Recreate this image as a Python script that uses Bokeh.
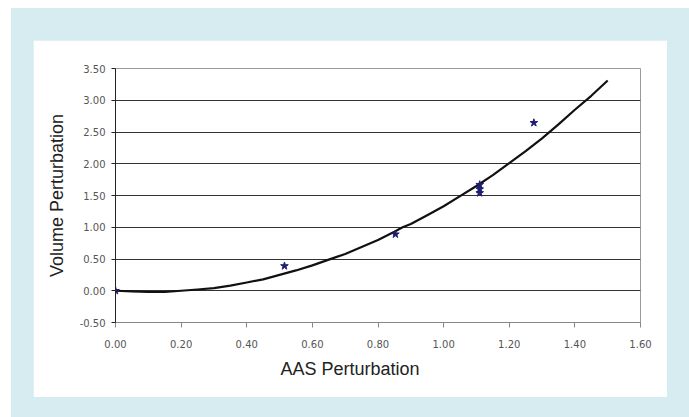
from bokeh.plotting import figure
from bokeh.models import FixedTicker, Title
from bokeh.layouts import column
from bokeh.embed import file_html
from bokeh.resources import INLINE

# measured points (AAS perturbation vs volume perturbation)
pts_x = [0.00, 0.515, 0.853, 1.11, 1.11, 1.11, 1.275]
pts_y = [0.00, 0.39, 0.89, 1.67, 1.60, 1.54, 2.645]

# fitted curve
fit_x = [0.00, 0.05, 0.10, 0.15, 0.20, 0.25, 0.30, 0.35, 0.40, 0.45, 0.50,
         0.55, 0.60, 0.65, 0.70, 0.75, 0.80, 0.85, 0.875, 0.90, 0.95, 1.00,
         1.05, 1.10, 1.15, 1.20, 1.25, 1.30, 1.35, 1.40, 1.45, 1.50]
fit_y = [0.00, -0.01, -0.02, -0.02, 0.00, 0.02, 0.04, 0.08, 0.13, 0.18, 0.25,
         0.32, 0.40, 0.49, 0.58, 0.69, 0.80, 0.93, 1.00, 1.05, 1.19, 1.33,
         1.49, 1.65, 1.82, 2.01, 2.20, 2.40, 2.62, 2.85, 3.07, 3.31]

x_ticks = [0.0, 0.2, 0.4, 0.6, 0.8, 1.0, 1.2, 1.4, 1.6]
x_tick_labels = ["0.00", "0.20", "0.40", "0.60", "0.80", "1.00", "1.20", "1.40", "1.60"]
y_ticks = [-0.5, 0.0, 0.5, 1.0, 1.5, 2.0, 2.5, 3.0, 3.5]
y_tick_labels = ["-0.50", "0.00", "0.50", "1.00", "1.50", "2.00", "2.50", "3.00", "3.50"]

x_title = "AAS Perturbation"
y_title = "Volume Perturbation"

p = figure(width=634, height=357, output_backend="svg", toolbar_location=None,
           x_range=(0, 1.6), y_range=(-0.5, 3.5),
           min_border_left=82, min_border_right=27, min_border_top=28, min_border_bottom=75,
           background_fill_color="white", border_fill_color="white")
p.outline_line_color = "#9a9a9a"
p.outline_line_width = 1

p.xgrid.visible = False
p.ygrid.ticker = FixedTicker(ticks=y_ticks)
p.ygrid.grid_line_color = "#333333"
p.ygrid.grid_line_width = 1

for ax, ticks, labels in ((p.xaxis[0], x_ticks, x_tick_labels), (p.yaxis[0], y_ticks, y_tick_labels)):
    ax.ticker = FixedTicker(ticks=ticks)
    ax.major_label_overrides = {t: l for t, l in zip(ticks, labels)}
    ax.minor_tick_line_color = None
    ax.major_tick_in = 0
    ax.major_label_text_font = "DejaVu Sans"
    ax.major_label_text_font_size = "10px"
    ax.major_label_text_color = "#555555"

p.xaxis.major_tick_out = 5
p.xaxis.axis_line_color = "#888888"
p.xaxis.major_tick_line_color = "#888888"
p.xaxis.major_label_standoff = 12

p.yaxis.major_tick_out = 4
p.yaxis.axis_line_color = "#222222"
p.yaxis.major_tick_line_color = "#222222"
p.yaxis.major_label_standoff = 6
p.yaxis.axis_label = y_title
p.yaxis.axis_label_text_font = "Liberation Sans"
p.yaxis.axis_label_text_font_size = "18px"
p.yaxis.axis_label_text_font_style = "normal"
p.yaxis.axis_label_text_color = "#222222"
p.yaxis.axis_label_standoff = 10

p.line(fit_x, fit_y, line_color="#111111", line_width=2.2)
p.scatter(pts_x, pts_y, marker="star", size=8, fill_color="#1e1e70", line_color="#1e1e70")

t = Title(text=x_title, align="left", offset=165, text_font="Liberation Sans",
          text_font_size="18px", text_font_style="normal", text_color="#222222",
          vertical_align="top", standoff=16)
p.add_layout(t, "below")

lay = column(p, styles={"background-color": "#d7ecf1", "padding": "32px 22px 20px 22px",
                        "margin-left": "11px", "margin-top": "8px"})

open("out.html", "w").write(file_html(lay, INLINE))
